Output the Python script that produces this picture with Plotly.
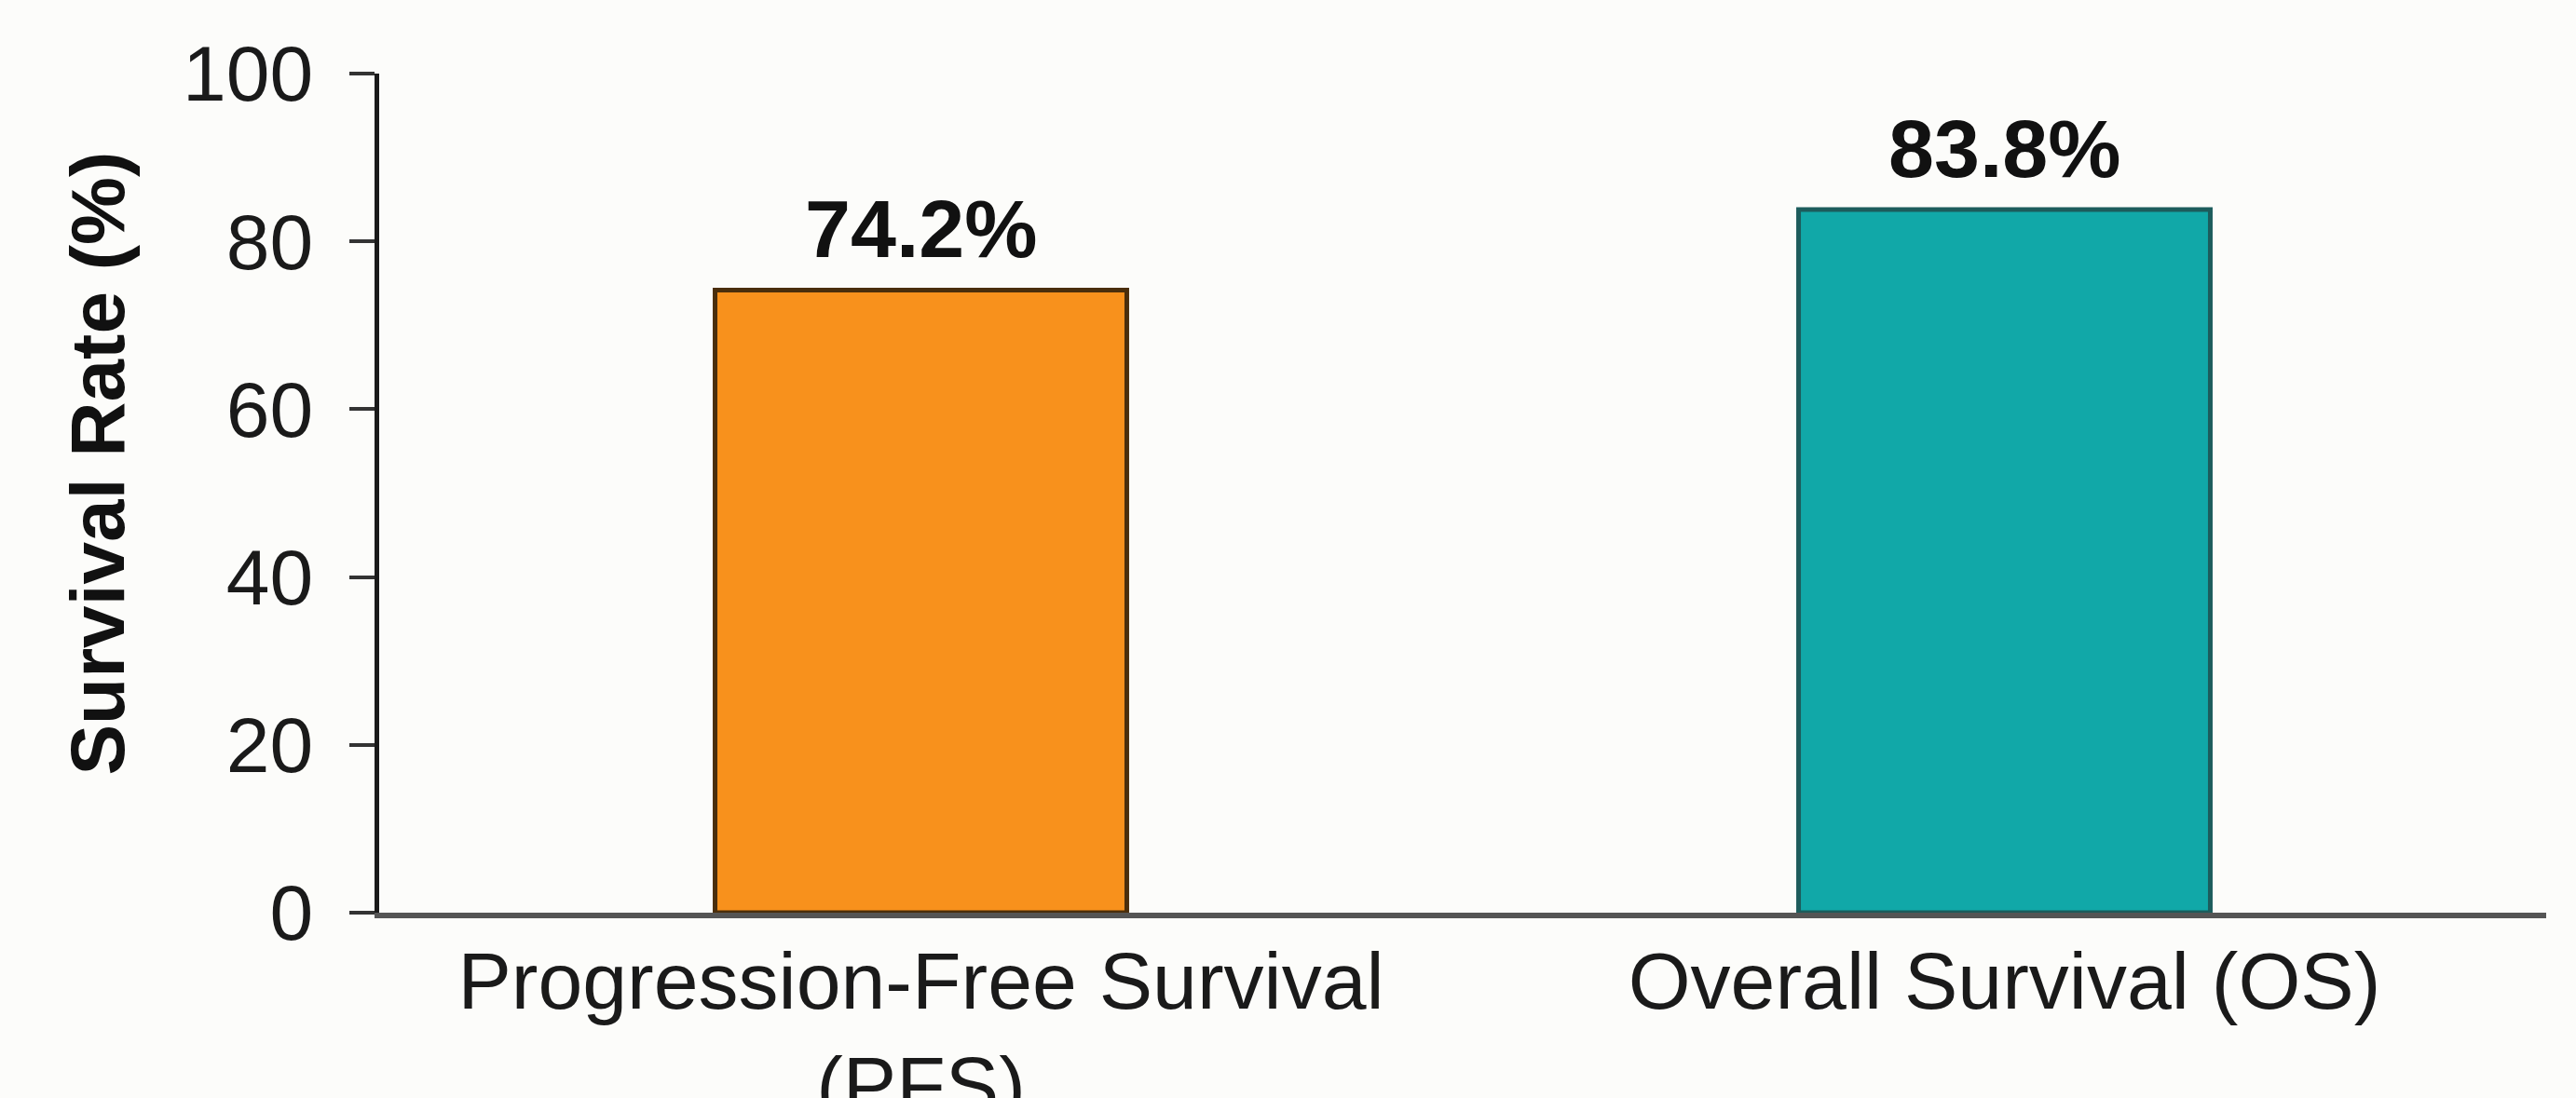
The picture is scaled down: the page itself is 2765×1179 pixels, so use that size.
import plotly.graph_objects as go

categories = ["Progression-Free Survival<br>(PFS)", "Overall Survival (OS)"]
values = [74.2, 83.8]
value_labels = ["74.2%", "83.8%"]
y_ticks = [0, 20, 40, 60, 80, 100]
y_title = "Survival Rate (%)"

fill_colors = ["#F8911C", "#11A8A8"]
edge_colors = ["#4a2e0c", "#1d5c5c"]

BG = "#fcfcfa"
FONT = "Liberation Sans, Arial, Helvetica, sans-serif"

fig = go.Figure()
fig.add_trace(go.Bar(
    x=categories,
    y=values,
    marker=dict(color=fill_colors, line=dict(color=edge_colors, width=5)),
    showlegend=False,
    hoverinfo="skip",
))

annotations = []
for c, v, t in zip(categories, values, value_labels):
    annotations.append(dict(
        x=c, y=v, xref="x", yref="y", text="<b>" + t + "</b>",
        showarrow=False, yanchor="bottom", xanchor="center", yshift=14,
        font=dict(family=FONT, size=88, color="#111111"),
    ))

annotations.append(dict(
    x=-0.13, y=0.535, xref="paper", yref="paper", text="<b>" + y_title + "</b>",
    textangle=-90, showarrow=False, xanchor="center", yanchor="middle",
    font=dict(family=FONT, size=82, color="#111111"),
))

fig.update_layout(
    width=2765, height=1179,
    margin=dict(l=407, r=32, t=79, b=199, autoexpand=False),
    paper_bgcolor=BG, plot_bgcolor=BG,
    bargap=0.62,
    annotations=annotations,
    font=dict(family=FONT, size=84, color="#1a1a1a"),
)
fig.update_xaxes(
    type="category", range=[-0.5, 1.5],
    showline=True, linecolor="#555555", linewidth=6,
    ticks="", showgrid=False, zeroline=False,
    tickfont=dict(family=FONT, size=86, color="#1a1a1a"),
    ticklabelstandoff=-6, automargin=False,
)
fig.update_yaxes(
    range=[0, 100], tickvals=y_ticks,
    showline=True, linecolor="#1a1a1a", linewidth=5,
    ticks="outside", ticklen=27, tickwidth=4, tickcolor="#333333",
    showgrid=False, zeroline=False,
    tickfont=dict(family=FONT, size=84, color="#1a1a1a"),
    ticklabelstandoff=22, automargin=False,
)

fig.write_html("out.html")
